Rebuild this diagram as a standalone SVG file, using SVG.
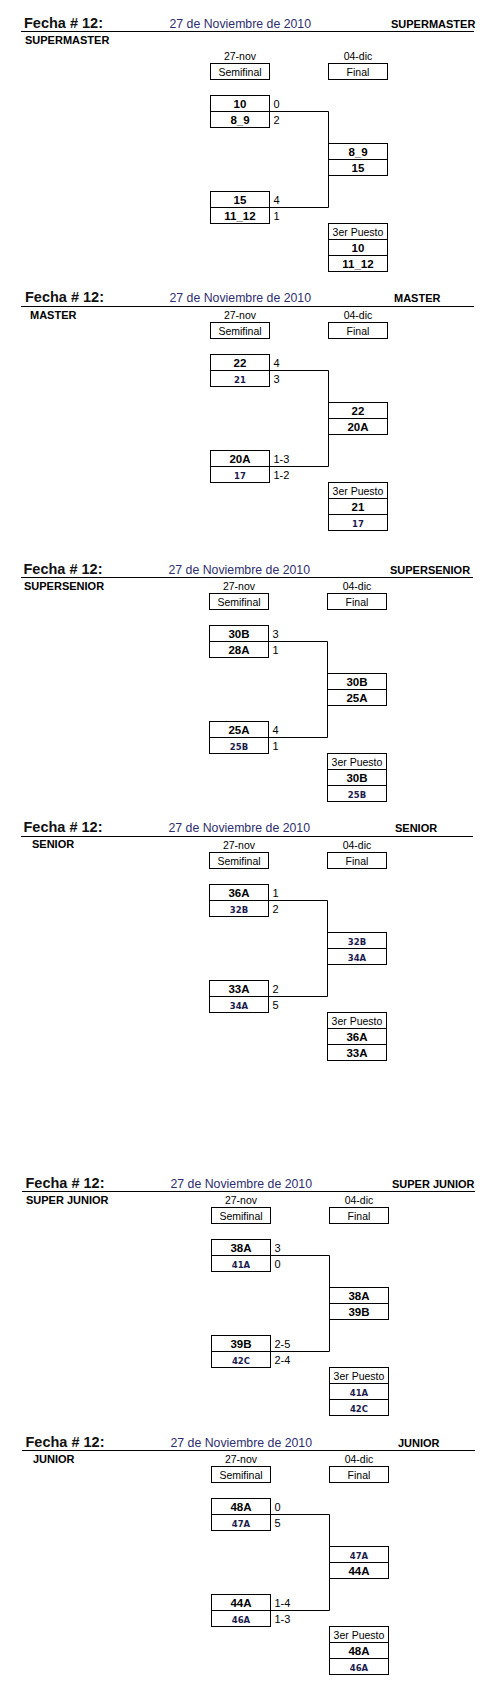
<svg xmlns="http://www.w3.org/2000/svg" width="500" height="1698" viewBox="0 0 500 1698">
<style>
text{font-family:"Liberation Sans",Arial,sans-serif;fill:#000}
.fe{font-size:14.5px;font-weight:bold;fill:#111}
.dt{font-size:12.3px;fill:#2e2e6e}
.tt{font-size:11px;font-weight:bold}
.lb{font-size:10.5px;text-anchor:middle}
.tb{font-size:11.5px;font-weight:bold;text-anchor:middle}
.ts{font-family:"DejaVu Sans",Verdana,sans-serif;font-size:8.5px;font-weight:bold;text-anchor:middle;fill:#1c1c50}
.sc{font-size:11px}
.bx{fill:#fff;stroke:#000;stroke-width:1}
.ln{fill:none;stroke:#000;stroke-width:1}
.cn{fill:none;stroke:#000;stroke-width:1}
</style>
<rect width="500" height="1698" fill="#fff"/>

<g id="connectors">
<path class="cn" transform="translate(210.5,63.5)" d="M59,48H118V144H59"/>
<path class="cn" transform="translate(210.5,322.5)" d="M59,48H118V144H59"/>
<path class="cn" transform="translate(209.5,593.5)" d="M59,48H118V144H59"/>
<path class="cn" transform="translate(209.5,852.5)" d="M59,48H118V144H59"/>
<path class="cn" transform="translate(211.5,1207.5)" d="M59,48H118V144H59"/>
<path class="cn" transform="translate(211.5,1466.5)" d="M59,48H118V144H59"/>
</g>

<!-- Section 1 SUPERMASTER -->
<g id="s1-header">
<text class="fe" x="24" y="28">Fecha # 12:</text>
<text class="dt" x="169.5" y="28">27 de Noviembre de 2010</text>
<text class="tt" x="391" y="28">SUPERMASTER</text>
<path class="ln" d="M21,31.5H474"/>
<text class="tt" x="25" y="44">SUPERMASTER</text>
</g>
<g transform="translate(210.5,63.5)">
<g id="s1-semifinal"><text class="lb" x="29.5" y="-3.5">27-nov</text><rect class="bx" x="0" y="0" width="59" height="16"/><text class="lb" x="29.5" y="12.5">Semifinal</text></g>
<g id="s1-final-label"><text class="lb" x="147.5" y="-3.5">04-dic</text><rect class="bx" x="118" y="0" width="59" height="16"/><text class="lb" x="147.5" y="12.5">Final</text></g>
<g id="s1-semi1"><rect class="bx" x="0" y="32" width="59" height="32"/><path class="ln" d="M0,48H59"/><text class="tb" x="29.5" y="44.5">10</text><text class="tb" x="29.5" y="60.5">8_9</text><text class="sc" x="63" y="44.5">0</text><text class="sc" x="63" y="60.5">2</text></g>
<g id="s1-final"><rect class="bx" x="118" y="80" width="59" height="32"/><path class="ln" d="M118,96H177"/><text class="tb" x="147.5" y="92.5">8_9</text><text class="tb" x="147.5" y="108.5">15</text></g>
<g id="s1-semi2"><rect class="bx" x="0" y="128" width="59" height="32"/><path class="ln" d="M0,144H59"/><text class="tb" x="29.5" y="140.5">15</text><text class="tb" x="29.5" y="156.5">11_12</text><text class="sc" x="63" y="140.5">4</text><text class="sc" x="63" y="156.5">1</text></g>
<g id="s1-third"><rect class="bx" x="118" y="160" width="59" height="48"/><path class="ln" d="M118,176H177M118,192H177"/><text class="lb" x="147.5" y="172.5">3er Puesto</text><text class="tb" x="147.5" y="188.5">10</text><text class="tb" x="147.5" y="204.5">11_12</text></g>
</g>

<!-- Section 2 MASTER -->
<g id="s2-header">
<text class="fe" x="25" y="302">Fecha # 12:</text>
<text class="dt" x="169.5" y="302">27 de Noviembre de 2010</text>
<text class="tt" x="394" y="302">MASTER</text>
<path class="ln" d="M21,306.5H474"/>
<text class="tt" x="30" y="318.5">MASTER</text>
</g>
<g transform="translate(210.5,322.5)">
<g id="s2-semifinal"><text class="lb" x="29.5" y="-3.5">27-nov</text><rect class="bx" x="0" y="0" width="59" height="16"/><text class="lb" x="29.5" y="12.5">Semifinal</text></g>
<g id="s2-final-label"><text class="lb" x="147.5" y="-3.5">04-dic</text><rect class="bx" x="118" y="0" width="59" height="16"/><text class="lb" x="147.5" y="12.5">Final</text></g>
<g id="s2-semi1"><rect class="bx" x="0" y="32" width="59" height="32"/><path class="ln" d="M0,48H59"/><text class="tb" x="29.5" y="44.5">22</text><text class="ts" x="29.5" y="60">21</text><text class="sc" x="63" y="44.5">4</text><text class="sc" x="63" y="60.5">3</text></g>
<g id="s2-final"><rect class="bx" x="118" y="80" width="59" height="32"/><path class="ln" d="M118,96H177"/><text class="tb" x="147.5" y="92.5">22</text><text class="tb" x="147.5" y="108.5">20A</text></g>
<g id="s2-semi2"><rect class="bx" x="0" y="128" width="59" height="32"/><path class="ln" d="M0,144H59"/><text class="tb" x="29.5" y="140.5">20A</text><text class="ts" x="29.5" y="156">17</text><text class="sc" x="63" y="140.5">1-3</text><text class="sc" x="63" y="156.5">1-2</text></g>
<g id="s2-third"><rect class="bx" x="118" y="160" width="59" height="48"/><path class="ln" d="M118,176H177M118,192H177"/><text class="lb" x="147.5" y="172.5">3er Puesto</text><text class="tb" x="147.5" y="188.5">21</text><text class="ts" x="147.5" y="204">17</text></g>
</g>

<!-- Section 3 SUPERSENIOR -->
<g id="s3-header">
<text class="fe" x="23.5" y="573.5">Fecha # 12:</text>
<text class="dt" x="168.5" y="573.5">27 de Noviembre de 2010</text>
<text class="tt" x="390" y="573.5">SUPERSENIOR</text>
<path class="ln" d="M21,577.5H473"/>
<text class="tt" x="24" y="589.5">SUPERSENIOR</text>
</g>
<g transform="translate(209.5,593.5)">
<g id="s3-semifinal"><text class="lb" x="29.5" y="-3.5">27-nov</text><rect class="bx" x="0" y="0" width="59" height="16"/><text class="lb" x="29.5" y="12.5">Semifinal</text></g>
<g id="s3-final-label"><text class="lb" x="147.5" y="-3.5">04-dic</text><rect class="bx" x="118" y="0" width="59" height="16"/><text class="lb" x="147.5" y="12.5">Final</text></g>
<g id="s3-semi1"><rect class="bx" x="0" y="32" width="59" height="32"/><path class="ln" d="M0,48H59"/><text class="tb" x="29.5" y="44.5">30B</text><text class="tb" x="29.5" y="60.5">28A</text><text class="sc" x="63" y="44.5">3</text><text class="sc" x="63" y="60.5">1</text></g>
<g id="s3-final"><rect class="bx" x="118" y="80" width="59" height="32"/><path class="ln" d="M118,96H177"/><text class="tb" x="147.5" y="92.5">30B</text><text class="tb" x="147.5" y="108.5">25A</text></g>
<g id="s3-semi2"><rect class="bx" x="0" y="128" width="59" height="32"/><path class="ln" d="M0,144H59"/><text class="tb" x="29.5" y="140.5">25A</text><text class="ts" x="29.5" y="156">25B</text><text class="sc" x="63" y="140.5">4</text><text class="sc" x="63" y="156.5">1</text></g>
<g id="s3-third"><rect class="bx" x="118" y="160" width="59" height="48"/><path class="ln" d="M118,176H177M118,192H177"/><text class="lb" x="147.5" y="172.5">3er Puesto</text><text class="tb" x="147.5" y="188.5">30B</text><text class="ts" x="147.5" y="204">25B</text></g>
</g>

<!-- Section 4 SENIOR -->
<g id="s4-header">
<text class="fe" x="23.5" y="832">Fecha # 12:</text>
<text class="dt" x="168.5" y="832">27 de Noviembre de 2010</text>
<text class="tt" x="395" y="832">SENIOR</text>
<path class="ln" d="M21,836.5H473"/>
<text class="tt" x="32" y="848">SENIOR</text>
</g>
<g transform="translate(209.5,852.5)">
<g id="s4-semifinal"><text class="lb" x="29.5" y="-3.5">27-nov</text><rect class="bx" x="0" y="0" width="59" height="16"/><text class="lb" x="29.5" y="12.5">Semifinal</text></g>
<g id="s4-final-label"><text class="lb" x="147.5" y="-3.5">04-dic</text><rect class="bx" x="118" y="0" width="59" height="16"/><text class="lb" x="147.5" y="12.5">Final</text></g>
<g id="s4-semi1"><rect class="bx" x="0" y="32" width="59" height="32"/><path class="ln" d="M0,48H59"/><text class="tb" x="29.5" y="44.5">36A</text><text class="ts" x="29.5" y="60">32B</text><text class="sc" x="63" y="44.5">1</text><text class="sc" x="63" y="60.5">2</text></g>
<g id="s4-final"><rect class="bx" x="118" y="80" width="59" height="32"/><path class="ln" d="M118,96H177"/><text class="ts" x="147.5" y="92">32B</text><text class="ts" x="147.5" y="108">34A</text></g>
<g id="s4-semi2"><rect class="bx" x="0" y="128" width="59" height="32"/><path class="ln" d="M0,144H59"/><text class="tb" x="29.5" y="140.5">33A</text><text class="ts" x="29.5" y="156">34A</text><text class="sc" x="63" y="140.5">2</text><text class="sc" x="63" y="156.5">5</text></g>
<g id="s4-third"><rect class="bx" x="118" y="160" width="59" height="48"/><path class="ln" d="M118,176H177M118,192H177"/><text class="lb" x="147.5" y="172.5">3er Puesto</text><text class="tb" x="147.5" y="188.5">36A</text><text class="tb" x="147.5" y="204.5">33A</text></g>
</g>

<!-- Section 5 SUPER JUNIOR -->
<g id="s5-header">
<text class="fe" x="25.5" y="1188">Fecha # 12:</text>
<text class="dt" x="170.5" y="1188">27 de Noviembre de 2010</text>
<text class="tt" x="392" y="1188">SUPER JUNIOR</text>
<path class="ln" d="M22,1191.5H475"/>
<text class="tt" x="26" y="1203.5">SUPER JUNIOR</text>
</g>
<g transform="translate(211.5,1207.5)">
<g id="s5-semifinal"><text class="lb" x="29.5" y="-3.5">27-nov</text><rect class="bx" x="0" y="0" width="59" height="16"/><text class="lb" x="29.5" y="12.5">Semifinal</text></g>
<g id="s5-final-label"><text class="lb" x="147.5" y="-3.5">04-dic</text><rect class="bx" x="118" y="0" width="59" height="16"/><text class="lb" x="147.5" y="12.5">Final</text></g>
<g id="s5-semi1"><rect class="bx" x="0" y="32" width="59" height="32"/><path class="ln" d="M0,48H59"/><text class="tb" x="29.5" y="44.5">38A</text><text class="ts" x="29.5" y="60">41A</text><text class="sc" x="63" y="44.5">3</text><text class="sc" x="63" y="60.5">0</text></g>
<g id="s5-final"><rect class="bx" x="118" y="80" width="59" height="32"/><path class="ln" d="M118,96H177"/><text class="tb" x="147.5" y="92.5">38A</text><text class="tb" x="147.5" y="108.5">39B</text></g>
<g id="s5-semi2"><rect class="bx" x="0" y="128" width="59" height="32"/><path class="ln" d="M0,144H59"/><text class="tb" x="29.5" y="140.5">39B</text><text class="ts" x="29.5" y="156">42C</text><text class="sc" x="63" y="140.5">2-5</text><text class="sc" x="63" y="156.5">2-4</text></g>
<g id="s5-third"><rect class="bx" x="118" y="160" width="59" height="48"/><path class="ln" d="M118,176H177M118,192H177"/><text class="lb" x="147.5" y="172.5">3er Puesto</text><text class="ts" x="147.5" y="188">41A</text><text class="ts" x="147.5" y="204">42C</text></g>
</g>

<!-- Section 6 JUNIOR -->
<g id="s6-header">
<text class="fe" x="25.5" y="1446.5">Fecha # 12:</text>
<text class="dt" x="170.5" y="1446.5">27 de Noviembre de 2010</text>
<text class="tt" x="398" y="1446.5">JUNIOR</text>
<path class="ln" d="M22,1450.5H475"/>
<text class="tt" x="33" y="1462.5">JUNIOR</text>
</g>
<g transform="translate(211.5,1466.5)">
<g id="s6-semifinal"><text class="lb" x="29.5" y="-3.5">27-nov</text><rect class="bx" x="0" y="0" width="59" height="16"/><text class="lb" x="29.5" y="12.5">Semifinal</text></g>
<g id="s6-final-label"><text class="lb" x="147.5" y="-3.5">04-dic</text><rect class="bx" x="118" y="0" width="59" height="16"/><text class="lb" x="147.5" y="12.5">Final</text></g>
<g id="s6-semi1"><rect class="bx" x="0" y="32" width="59" height="32"/><path class="ln" d="M0,48H59"/><text class="tb" x="29.5" y="44.5">48A</text><text class="ts" x="29.5" y="60">47A</text><text class="sc" x="63" y="44.5">0</text><text class="sc" x="63" y="60.5">5</text></g>
<g id="s6-final"><rect class="bx" x="118" y="80" width="59" height="32"/><path class="ln" d="M118,96H177"/><text class="ts" x="147.5" y="92">47A</text><text class="tb" x="147.5" y="108.5">44A</text></g>
<g id="s6-semi2"><rect class="bx" x="0" y="128" width="59" height="32"/><path class="ln" d="M0,144H59"/><text class="tb" x="29.5" y="140.5">44A</text><text class="ts" x="29.5" y="156">46A</text><text class="sc" x="63" y="140.5">1-4</text><text class="sc" x="63" y="156.5">1-3</text></g>
<g id="s6-third"><rect class="bx" x="118" y="160" width="59" height="48"/><path class="ln" d="M118,176H177M118,192H177"/><text class="lb" x="147.5" y="172.5">3er Puesto</text><text class="tb" x="147.5" y="188.5">48A</text><text class="ts" x="147.5" y="204">46A</text></g>
</g>
</svg>
